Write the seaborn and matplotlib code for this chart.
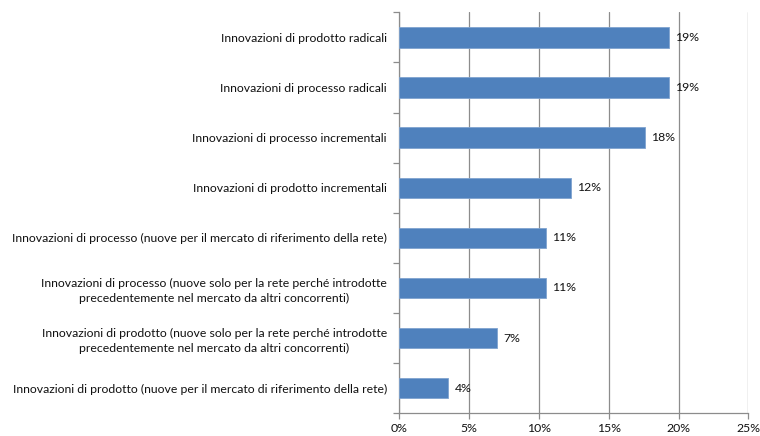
import matplotlib
matplotlib.use("Agg")
import matplotlib.pyplot as plt
import seaborn as sns
import pandas as pd
from matplotlib.ticker import FuncFormatter

categories = [
    "Innovazioni di prodotto radicali",
    "Innovazioni di processo radicali",
    "Innovazioni di processo incrementali",
    "Innovazioni di prodotto incrementali",
    "Innovazioni di processo (nuove per il mercato di riferimento della rete)",
    "Innovazioni di processo (nuove solo per la rete perché introdotte\nprecedentemente nel mercato da altri concorrenti)",
    "Innovazioni di prodotto (nuove solo per la rete perché introdotte\nprecedentemente nel mercato da altri concorrenti)",
    "Innovazioni di prodotto (nuove per il mercato di riferimento della rete)",
]
values = [19.3, 19.3, 17.6, 12.3, 10.5, 10.5, 7.0, 3.5]
value_labels = ["19%", "19%", "18%", "12%", "11%", "11%", "7%", "4%"]
xticks = [0, 5, 10, 15, 20, 25]

sns.set_style("white")
plt.rcParams['font.family'] = ['Lato', 'DejaVu Sans']

df = pd.DataFrame({"cat": categories, "val": values})

fig = plt.figure(figsize=(7.6, 4.36), dpi=100)
ax = fig.add_axes([399.3 / 760, 1 - 413.3 / 436, (748.3 - 399.3) / 760, (413.3 - 12.3) / 436])

sns.barplot(data=df, x="val", y="cat", orient="h", color="#4F81BD",
            width=0.405, edgecolor="#7FA3CF", linewidth=0.6, saturation=1, ax=ax, zorder=3)

fs = 8.8
ax.set_xlim(0, 25)
ax.set_ylim(len(categories) - 0.5, -0.5)
ax.set_xticks(xticks)
ax.xaxis.set_major_formatter(FuncFormatter(lambda v, p: f"{int(v)}%"))
ax.grid(axis="x", color="#8C8C8C", linewidth=0.9, zorder=0)
ax.grid(axis="y", visible=False)
ax.set_xlabel("")
ax.set_ylabel("")

for s in ["top", "right"]:
    ax.spines[s].set_visible(False)
for s in ["left", "bottom"]:
    ax.spines[s].set_color("#8C8C8C")
    ax.spines[s].set_linewidth(0.9)

ax.set_yticks([i - 0.5 for i in range(len(categories) + 1)], minor=False)
ax.set_yticklabels([])
ax.tick_params(axis="y", which="major", length=4, color="#8C8C8C", width=0.9, left=True)
ax.set_yticks(range(len(categories)), minor=True)
ax.set_yticklabels(categories, minor=True, fontsize=fs, color="#111111",
                   multialignment="center", linespacing=1.45)
ax.tick_params(axis="y", which="minor", length=0, pad=9)
ax.tick_params(axis="x", length=4, color="#8C8C8C", width=0.9, bottom=True,
               labelsize=fs, labelcolor="#111111", pad=3)

for i, (v, lab) in enumerate(zip(values, value_labels)):
    ax.text(v + 0.45, i, lab, va="center", ha="left", fontsize=fs, color="#111111", zorder=4)

fig.savefig("out.png", dpi=100)
